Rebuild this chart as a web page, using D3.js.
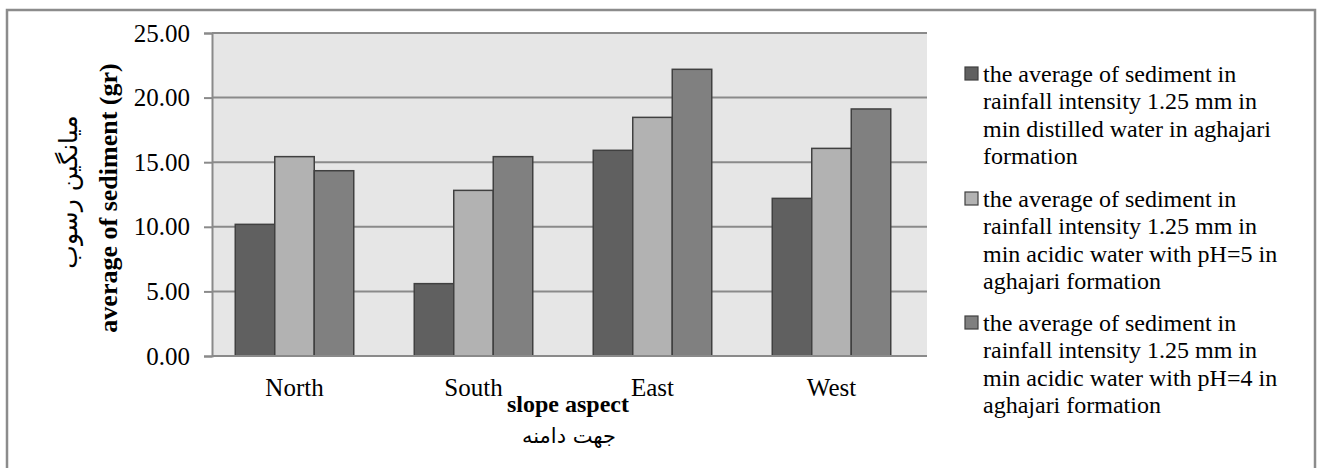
<!DOCTYPE html>
<html>
<head>
<meta charset="utf-8">
<script src="https://cdn.jsdelivr.net/npm/d3@7"></script>
<style>
  html, body { margin: 0; padding: 0; background: #ffffff; }
  svg { display: block; }
  text { font-family: "Liberation Serif", "Times New Roman", "DejaVu Sans", serif; fill: #000; }
</style>
</head>
<body>
<svg id="chart" width="1317" height="468"></svg>
<script>
// ---- data ----
const categories = ["North", "South", "East", "West"];
const seriesNames = [
  "the average of sediment in rainfall intensity 1.25 mm in min distilled water in aghajari formation",
  "the average of sediment in rainfall intensity 1.25 mm in min acidic water with pH=5 in aghajari formation",
  "the average of sediment in rainfall intensity 1.25 mm in min acidic water with pH=4 in aghajari formation"
];
const legendLines = [
  ["the average of sediment in", "rainfall intensity 1.25 mm in", "min distilled water in aghajari", "formation"],
  ["the average of sediment in", "rainfall intensity 1.25 mm in", "min acidic water with pH=5 in", "aghajari formation"],
  ["the average of sediment in", "rainfall intensity 1.25 mm in", "min acidic water with pH=4 in", "aghajari formation"]
];
const distilled = [10.19, 5.60, 15.92, 12.20];
const ph5 = [15.43, 12.82, 18.47, 16.07];
const ph4 = [14.34, 15.43, 22.19, 19.12];
const yTicks = [0, 5, 10, 15, 20, 25];
const yTitleEn = "average  of sediment (gr)";
const yTitleFa = "میانگین رسوب";
const xTitleEn = "slope aspect";
const xTitleFa = "جهت دامنه";

const seriesValues = [distilled, ph5, ph4];
const colors = ["#606060", "#b2b2b2", "#808080"];

// ---- layout ----
const svg = d3.select("#chart");
const plot = { left: 212, right: 927, top: 33, bottom: 356 };
const serif = '"Liberation Serif", "Times New Roman", serif';
const arabic = '"DejaVu Sans", sans-serif';

// outer frame
svg.append("rect")
  .attr("x", 7).attr("y", 10)
  .attr("width", 1308).attr("height", 480)
  .attr("fill", "none").attr("stroke", "#8c8c8c").attr("stroke-width", 2.5);

const y = d3.scaleLinear().domain([0, 25]).range([plot.bottom, plot.top]);
const x = d3.scaleBand().domain(categories).range([205, 921])
  .paddingInner(0.338).paddingOuter(0.169);
const xs = d3.scaleBand().domain(d3.range(seriesNames.length)).range([0, x.bandwidth()]);

// plot background
svg.append("rect")
  .attr("x", plot.left).attr("y", plot.top)
  .attr("width", plot.right - plot.left).attr("height", plot.bottom - plot.top)
  .attr("fill", "#e6e6e6");

// gridlines
svg.append("g").selectAll("line").data(yTicks.filter(d => d > 0)).join("line")
  .attr("x1", plot.left).attr("x2", plot.right)
  .attr("y1", d => y(d)).attr("y2", d => y(d))
  .attr("stroke", "#8a8a8a").attr("stroke-width", 2);

// y axis
const yAxis = d3.axisLeft(y).tickValues(yTicks).tickFormat(d3.format(".2f")).tickSize(8).tickPadding(14);
const gy = svg.append("g").attr("transform", `translate(${plot.left},0)`).call(yAxis);
gy.select(".domain").attr("stroke", "#8a8a8a").attr("stroke-width", 2);
gy.selectAll(".tick line").attr("stroke", "#8a8a8a").attr("stroke-width", 2);
gy.selectAll(".tick text")
  .style("font-family", serif).style("font-size", "25px").attr("fill", "#000");

// bars
const groups = svg.append("g").selectAll("g").data(categories).join("g")
  .attr("transform", d => `translate(${x(d)},0)`);
groups.selectAll("rect")
  .data((c, i) => seriesValues.map((vals, s) => ({ s, v: vals[i] })))
  .join("rect")
  .attr("x", d => xs(d.s))
  .attr("width", xs.bandwidth())
  .attr("y", d => y(d.v))
  .attr("height", d => y(0) - y(d.v))
  .attr("fill", d => colors[d.s])
  .attr("stroke", "#404040").attr("stroke-width", 1.5);

// x axis
const xAxis = d3.axisBottom(x).tickSize(0).tickPadding(22);
const gx = svg.append("g").attr("transform", `translate(0,${plot.bottom})`).call(xAxis);
gx.select(".domain").attr("d", `M${plot.left},0H${plot.right}`)
  .attr("stroke", "#8a8a8a").attr("stroke-width", 2);
gx.selectAll(".tick text")
  .style("font-family", serif).style("font-size", "25px").attr("fill", "#000");

// x title
svg.append("text").attr("x", 568).attr("y", 412).attr("text-anchor", "middle")
  .style("font-family", serif)
  .style("font-size", "24px").style("font-weight", "bold").text(xTitleEn);
svg.append("text").attr("x", 569).attr("y", 443).attr("text-anchor", "middle")
  .attr("direction", "rtl")
  .style("font-size", "21px").style("font-family", arabic).text(xTitleFa);

// y title
svg.append("text").attr("transform", "translate(117,198) rotate(-90)")
  .attr("text-anchor", "middle")
  .style("font-family", serif)
  .style("font-size", "26px").style("font-weight", "bold").text(yTitleEn);
svg.append("text").attr("transform", "translate(77,192) rotate(-90)")
  .attr("text-anchor", "middle").attr("direction", "rtl")
  .style("font-size", "25px").style("font-family", arabic).text(yTitleFa);

// legend
const entryTop = [82, 207, 331];
const lg = svg.append("g").selectAll("g").data(seriesNames).join("g")
  .attr("transform", (d, i) => `translate(965,${entryTop[i]})`);
lg.append("rect").attr("x", 0).attr("y", -15).attr("width", 13).attr("height", 13)
  .attr("fill", (d, i) => colors[i]).attr("stroke", "#404040").attr("stroke-width", 1.2);
lg.each(function(d, i) {
  d3.select(this).selectAll("text").data(legendLines[i]).join("text")
    .attr("x", 18).attr("y", (t, j) => j * 27.3)
    .style("font-family", serif)
    .style("font-size", "24px").text(t => t);
});
</script>
</body>
</html>
